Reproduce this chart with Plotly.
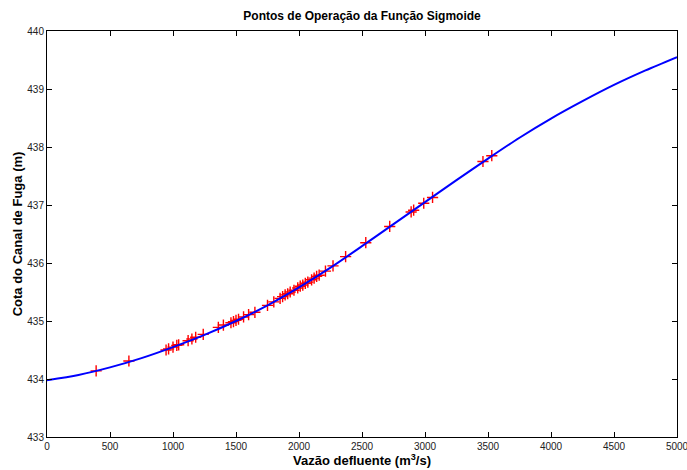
import plotly.graph_objects as go

# Fitted sigmoid curve
curve_x = [0, 250, 500, 750, 1000, 1250, 1500, 1750, 2000, 2250, 2500,
           2750, 3000, 3250, 3500, 3750, 4000, 4250, 4500, 4750, 5000]
curve_y = [433.98, 434.07, 434.20, 434.36, 434.55, 434.76, 435.00, 435.27,
           435.58, 435.92, 436.29, 436.67, 437.05, 437.43, 437.80, 438.16,
           438.49, 438.79, 439.07, 439.32, 439.55]

# Operating points (red +)
pts_x = [390, 650, 945, 965, 1000, 1030, 1045, 1120, 1150, 1180, 1240, 1360,
         1400, 1460, 1480, 1500, 1520, 1560, 1600, 1650, 1750, 1800, 1850,
         1870, 1890, 1910, 1930, 1960, 1990, 2010, 2030, 2050, 2070, 2100,
         2120, 2140, 2160, 2210, 2270, 2370, 2530, 2720, 2890, 2910, 2990,
         3060, 3460, 3530]
pts_y = [434.14, 434.31, 434.50, 434.52, 434.55, 434.58, 434.59, 434.66,
         434.69, 434.72, 434.77, 434.89, 434.93, 434.97, 434.99, 435.01,
         435.03, 435.07, 435.11, 435.15, 435.27, 435.33, 435.39, 435.42,
         435.45, 435.47, 435.50, 435.53, 435.57, 435.60, 435.62, 435.65,
         435.67, 435.71, 435.74, 435.77, 435.79, 435.86, 435.95, 436.11,
         436.35, 436.63, 436.88, 436.91, 437.03, 437.13, 437.75, 437.85]

x_ticks = [0, 500, 1000, 1500, 2000, 2500, 3000, 3500, 4000, 4500, 5000]
y_ticks = [433, 434, 435, 436, 437, 438, 439, 440]

FONT = "Liberation Sans, Arial, sans-serif"

fig = go.Figure()
fig.add_trace(go.Scatter(
    x=pts_x, y=pts_y, mode="markers",
    marker=dict(symbol="cross-thin", size=8, line=dict(color="#ff0000", width=1.4)),
    showlegend=False))
fig.add_trace(go.Scatter(
    x=curve_x, y=curve_y, mode="lines", line_shape="spline",
    line=dict(color="#0000ff", width=2, smoothing=0.8), showlegend=False))

axis_common = dict(
    showgrid=False, zeroline=False, showline=True, linecolor="black",
    linewidth=1, mirror="allticks", ticks="inside", ticklen=5,
    tickcolor="black", tickwidth=1, automargin=False,
    ticklabeloverflow="allow",
    tickfont=dict(family=FONT, size=10, color="#222"))

fig.update_xaxes(range=[0, 5000], tickvals=x_ticks,
                 ticktext=[str(v) for v in x_ticks],
                 title=dict(text="<b>Vazão defluente (m<sup>3</sup>/s)</b>",
                            font=dict(family=FONT, size=13, color="black"),
                            standoff=2),
                 **axis_common)
fig.update_yaxes(range=[433, 440], tickvals=y_ticks,
                 ticktext=[str(v) for v in y_ticks],
                 title=dict(text="<b>Cota do Canal de Fuga (m)</b>",
                            font=dict(family=FONT, size=13, color="black"),
                            standoff=1),
                 **axis_common)

fig.update_layout(
    width=687, height=470,
    margin=dict(l=47, r=10, t=31, b=33, autoexpand=False),
    paper_bgcolor="white", plot_bgcolor="white",
    title=dict(text="<b>Pontos de Operação da Função Sigmoide</b>",
               font=dict(family=FONT, size=12, color="black"),
               x=0.527, xanchor="center", y=0.966, yanchor="middle"),
)

fig.write_html("out.html", config={"displayModeBar": False},
               post_script="document.body.style.margin='0';document.body.style.overflow='hidden';")
